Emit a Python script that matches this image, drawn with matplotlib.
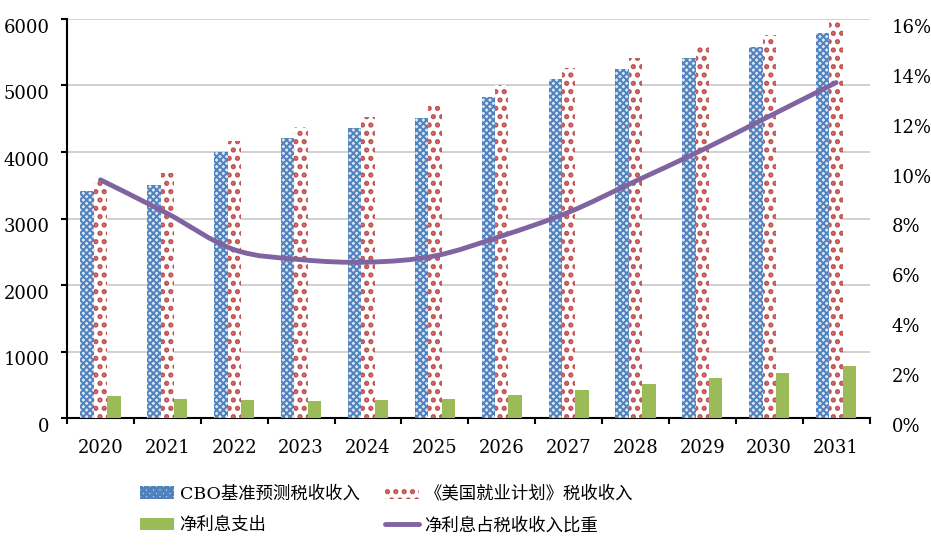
import numpy as np
import matplotlib.pyplot as plt
from matplotlib.path import Path
from matplotlib.patches import PathPatch
from matplotlib.ticker import FuncFormatter
from matplotlib.transforms import ScaledTranslation

plt.rcParams['font.family'] = ['DejaVu Serif', 'Noto Sans CJK SC']

# Data
years = ['2020', '2021', '2022', '2023', '2024', '2025',
         '2026', '2027', '2028', '2029', '2030', '2031']
cbo_rev = [3420, 3500, 4000, 4210, 4360, 4510, 4830, 5100, 5250, 5410, 5580, 5790]
ajp_rev = [3580, 3680, 4165, 4375, 4530, 4690, 5010, 5260, 5410, 5590, 5760, 5970]
net_int = [330, 285, 270, 255, 270, 285, 345, 420, 510, 600, 680, 780]
int_share = [9.55, 8.2, 6.75, 6.35, 6.25, 6.5, 7.3, 8.25, 9.5, 10.75, 12.1, 13.45]

lbl_cbo = 'CBO基准预测税收收入'
lbl_ajp = '《美国就业计划》税收收入'
lbl_int = '净利息支出'
lbl_share = '净利息占税收收入比重'


def smooth_path(xs, ys):
    # Catmull-Rom through the points, drawn as bezier segments
    xs = np.asarray(xs, float)
    ys = np.asarray(ys, float)
    n = len(xs)
    verts = [(xs[0], ys[0])]
    codes = [Path.MOVETO]
    for i in range(n - 1):
        p0 = (xs[max(i - 1, 0)], ys[max(i - 1, 0)])
        p1 = (xs[i], ys[i])
        p2 = (xs[i + 1], ys[i + 1])
        p3 = (xs[min(i + 2, n - 1)], ys[min(i + 2, n - 1)])
        c1 = (p1[0] + (p2[0] - p0[0]) / 6, p1[1] + (p2[1] - p0[1]) / 6)
        c2 = (p2[0] - (p3[0] - p1[0]) / 6, p2[1] - (p3[1] - p1[1]) / 6)
        verts += [c1, c2, p2]
        codes += [Path.CURVE4] * 3
    return Path(verts, codes)


fig = plt.figure(figsize=(9.31, 5.49), dpi=100)
ax = fig.add_axes([0.072, 0.2386, 0.862, 0.7268])
ax2 = ax.twinx()

x = np.arange(len(years))
w = 0.2

plt.rcParams['hatch.linewidth'] = 1.4
b1 = ax.bar(x - w, cbo_rev, w, facecolor='#dce6f2', edgecolor='#4f81bd',
            hatch='xxxxx', linewidth=0, label=lbl_cbo, zorder=3)
plt.rcParams['hatch.linewidth'] = 2.5
b2 = ax.bar(x, ajp_rev, w, facecolor='white', edgecolor='#c0504d',
            hatch='..', linewidth=0, label=lbl_ajp, zorder=3)
b3 = ax.bar(x + w, net_int, w, color='#9bbb59', linewidth=0,
            label=lbl_int, zorder=3)

ax.set_xlim(-0.5, len(years) - 0.5)
ax.set_ylim(0, 6000)
ax.set_yticks(range(0, 6001, 1000))
ax.yaxis.grid(True, color='#c8c8c8', linewidth=1.2, zorder=0)
ax.set_axisbelow(True)

ax.set_xticks(x)
ax.set_xticklabels(years)
ax.set_xticks(np.arange(-0.5, len(years), 1), minor=True)
ax.tick_params(axis='x', which='major', length=0, pad=15, labelsize=13)
ax.tick_params(axis='x', which='minor', length=4.5, width=1.5, direction='out')
ax.tick_params(axis='y', length=4.5, width=1.5, direction='out', pad=8, labelsize=13)

for s in ['top', 'right']:
    ax.spines[s].set_visible(False)
ax.spines['left'].set_linewidth(1.5)
ax.spines['bottom'].set_linewidth(1.5)

ax2.set_ylim(0, 16)
ax2.set_yticks(range(0, 17, 2))
ax2.yaxis.set_major_formatter(FuncFormatter(lambda v, p: '%d%%' % v))
ax2.tick_params(axis='y', length=0, pad=16, labelsize=13)
for s in ['top', 'right', 'left', 'bottom']:
    ax2.spines[s].set_visible(False)

# y labels sit a little below their gridlines in the original
shift = ScaledTranslation(0, -5 / 72, fig.dpi_scale_trans)
for t in ax.yaxis.get_major_ticks():
    t.label1.set_transform(t.label1.get_transform() + shift)
for t in ax2.yaxis.get_major_ticks():
    t.label2.set_transform(t.label2.get_transform() + shift)

line_patch = PathPatch(smooth_path(x, int_share), facecolor='none',
                       edgecolor='#8064a2', linewidth=3.5, capstyle='round',
                       zorder=5)
ax2.add_patch(line_patch)
line_handle, = ax2.plot([], [], color='#8064a2', linewidth=3.5,
                        solid_capstyle='round', label=lbl_share)

fig.legend([b1, b3, b2, line_handle], [lbl_cbo, lbl_int, lbl_ajp, lbl_share],
           ncol=2, loc='lower left', bbox_to_anchor=(0.150, 0.027),
           frameon=False, fontsize=12.5, handlelength=2.0, handleheight=0.7,
           handletextpad=0.3, columnspacing=1.45, labelspacing=0.84,
           borderpad=0, borderaxespad=0)

fig.savefig('out.png', dpi=100)
